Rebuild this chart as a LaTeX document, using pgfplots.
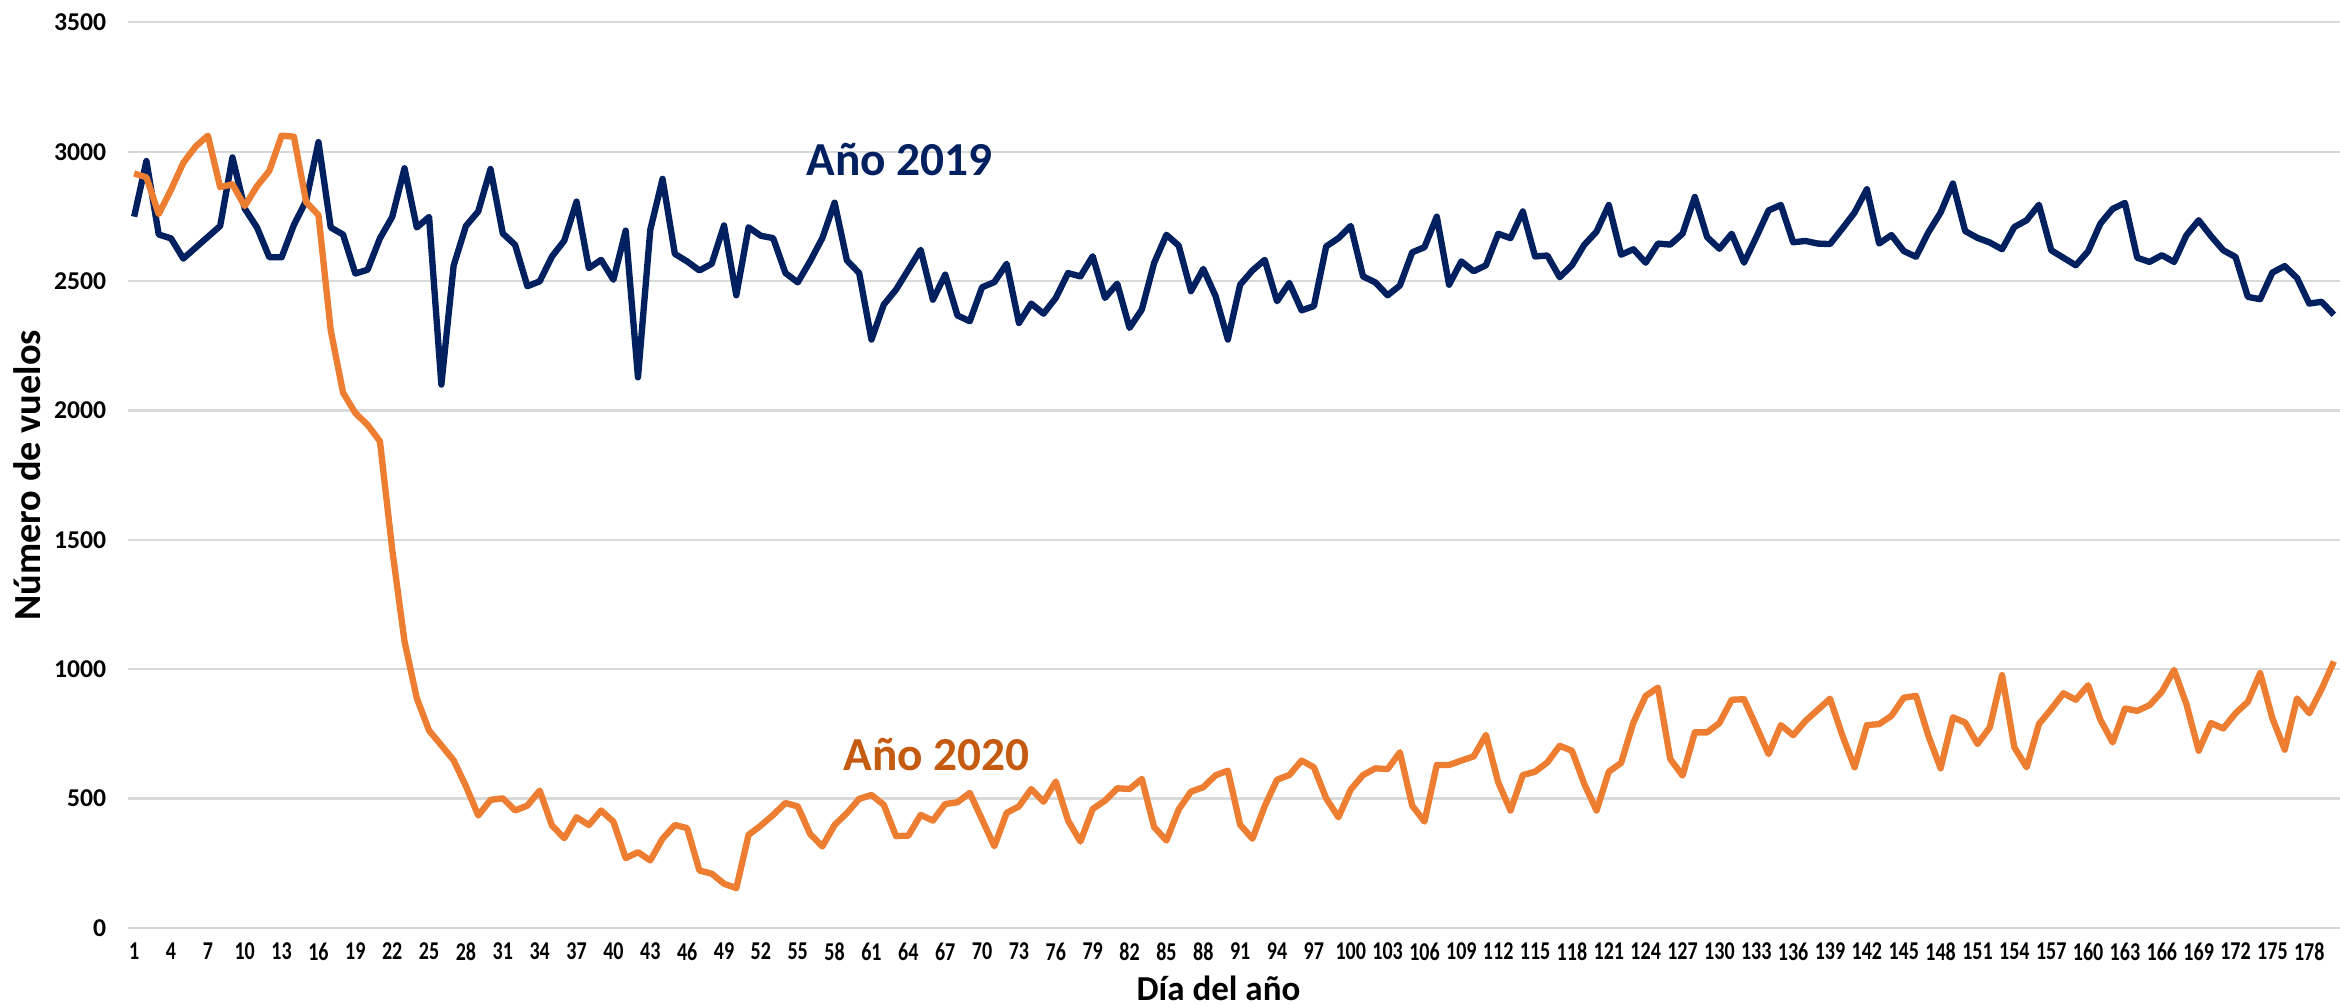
\documentclass[border=0pt]{standalone}
\usepackage{fontspec}
\setmainfont{Carlito}
\newfontfamily\xtickfont[FakeStretch=0.78]{Carlito}
\usepackage{pgfplots}
\pgfplotsset{compat=1.18}
\definecolor{navy}{HTML}{002060}
\definecolor{orangeL}{HTML}{ED7D31}
\definecolor{orangeT}{HTML}{C55A11}
\definecolor{gridc}{HTML}{D9D9D9}
\begin{document}
\begin{tikzpicture}
\begin{axis}[
  at={(0,0)}, anchor=south west,
  width=663.6pt, height=271.7pt, scale only axis,
  xmin=0.5, xmax=180.5, ymin=0, ymax=3500,
  xtick={1,4,...,178}, ytick={0,500,...,3500},
  axis line style={draw=none}, tick style={draw=none},
  ymajorgrids, major grid style={gridc, line width=0.7pt},
  scaled y ticks=false,
  /pgf/number format/1000 sep={},
  /pgf/number format/assume math mode=true,
  yticklabel style={font=\bfseries\fontsize{7.7}{9}\selectfont, xshift=-3pt},
  xticklabel style={font=\xtickfont\bfseries\fontsize{7.7}{9}\selectfont, yshift=-1pt},
  xlabel={Día del año},
  ylabel={Número de vuelos},
  xlabel style={font=\bfseries\fontsize{10.5}{12}\selectfont, at={(axis description cs:0.493,0)}, anchor=center, yshift=-18.2pt},
  ylabel style={font=\bfseries\fontsize{11.5}{13}\selectfont, at={(axis description cs:-0.0457,0.5)}, anchor=center},
  clip=true,
]
\addplot[navy, line width=1.9pt, line join=round] table {
x y
1 2749
2 2964
3 2680
4 2665
5 2587
6 2629
7 2671
8 2713
9 2978
10 2780
11 2707
12 2592
13 2592
14 2717
15 2811
16 3037
17 2707
18 2680
19 2529
20 2544
21 2665
22 2748
23 2936
24 2707
25 2748
26 2100
27 2560
28 2713
29 2769
30 2933
31 2684
32 2640
33 2480
34 2499
35 2595
36 2656
37 2807
38 2550
39 2582
40 2505
41 2695
42 2128
43 2698
44 2895
45 2605
46 2576
47 2541
48 2567
49 2715
50 2445
51 2708
52 2675
53 2666
54 2531
55 2495
56 2576
57 2666
58 2803
59 2580
60 2531
61 2274
62 2409
63 2467
64 2544
65 2621
66 2428
67 2525
68 2367
69 2345
70 2476
71 2496
72 2567
73 2338
74 2413
75 2374
76 2435
77 2531
78 2518
79 2596
80 2435
81 2490
82 2319
83 2390
84 2570
85 2679
86 2637
87 2461
88 2547
89 2442
90 2274
91 2486
92 2541
93 2582
94 2422
95 2493
96 2387
97 2403
98 2634
99 2666
100 2713
101 2518
102 2495
103 2445
104 2483
105 2611
106 2631
107 2749
108 2486
109 2576
110 2538
111 2561
112 2683
113 2666
114 2769
115 2595
116 2599
117 2515
118 2561
119 2640
120 2691
121 2794
122 2602
123 2623
124 2571
125 2645
126 2641
127 2683
128 2825
129 2670
130 2625
131 2683
132 2571
133 2670
134 2773
135 2794
136 2650
137 2655
138 2645
139 2643
140 2703
141 2765
142 2855
143 2645
144 2678
145 2616
146 2594
147 2688
148 2765
149 2877
150 2693
151 2667
152 2649
153 2623
154 2709
155 2735
156 2795
157 2619
158 2590
159 2561
160 2615
161 2722
162 2779
163 2802
164 2590
165 2574
166 2600
167 2574
168 2677
169 2735
170 2674
171 2619
172 2593
173 2439
174 2430
175 2533
176 2558
177 2512
178 2413
179 2420
180 2370
};
\addplot[orangeL, line width=1.9pt, line join=round] table {
x y
1 2916
2 2901
3 2759
4 2853
5 2957
6 3020
7 3062
8 2863
9 2874
10 2790
11 2867
12 2926
13 3062
14 3058
15 2805
16 2755
17 2309
18 2069
19 1990
20 1944
21 1881
22 1463
23 1108
24 888
25 763
26 706
27 648
28 548
29 435
30 495
31 501
32 454
33 473
34 531
35 396
36 347
37 428
38 398
39 454
40 411
41 270
42 293
43 261
44 345
45 398
46 386
47 222
48 210
49 171
50 154
51 360
52 396
53 437
54 483
55 470
56 364
57 315
58 398
59 444
60 499
61 514
62 476
63 355
64 357
65 437
66 415
67 479
68 486
69 522
70 419
71 316
72 445
73 470
74 537
75 488
76 566
77 415
78 334
79 460
80 492
81 540
82 537
83 576
84 390
85 338
86 458
87 527
88 544
89 590
90 608
91 399
92 345
93 471
94 573
95 591
96 647
97 621
98 501
99 428
100 535
101 591
102 617
103 614
104 679
105 473
106 411
107 630
108 630
109 647
110 663
111 746
112 563
113 454
114 591
115 604
116 640
117 704
118 685
119 557
120 454
121 604
122 638
123 794
124 897
125 929
126 653
127 589
128 756
129 756
130 792
131 882
132 884
133 779
134 672
135 784
136 745
137 800
138 843
139 886
140 745
141 621
142 784
143 788
144 820
145 890
146 897
147 743
148 617
149 814
150 794
151 711
152 775
153 977
154 698
155 621
156 788
157 846
158 907
159 882
160 938
161 805
162 717
163 848
164 839
165 861
166 913
167 997
168 865
169 685
170 792
171 771
172 830
173 874
174 985
175 810
176 689
177 887
178 830
179 923
180 1030
};
\node[font=\bfseries\fontsize{14.2}{16}\selectfont, text=navy] at (axis cs:63.3,2968) {Año 2019};
\node[font=\bfseries\fontsize{14.2}{16}\selectfont, text=orangeT] at (axis cs:66.3,672) {Año 2020};
\end{axis}
\pgfresetboundingbox
\path[use as bounding box] (-38.4pt,-23.1pt) rectangle (663.6pt,278.4pt);
\end{tikzpicture}
\end{document}
